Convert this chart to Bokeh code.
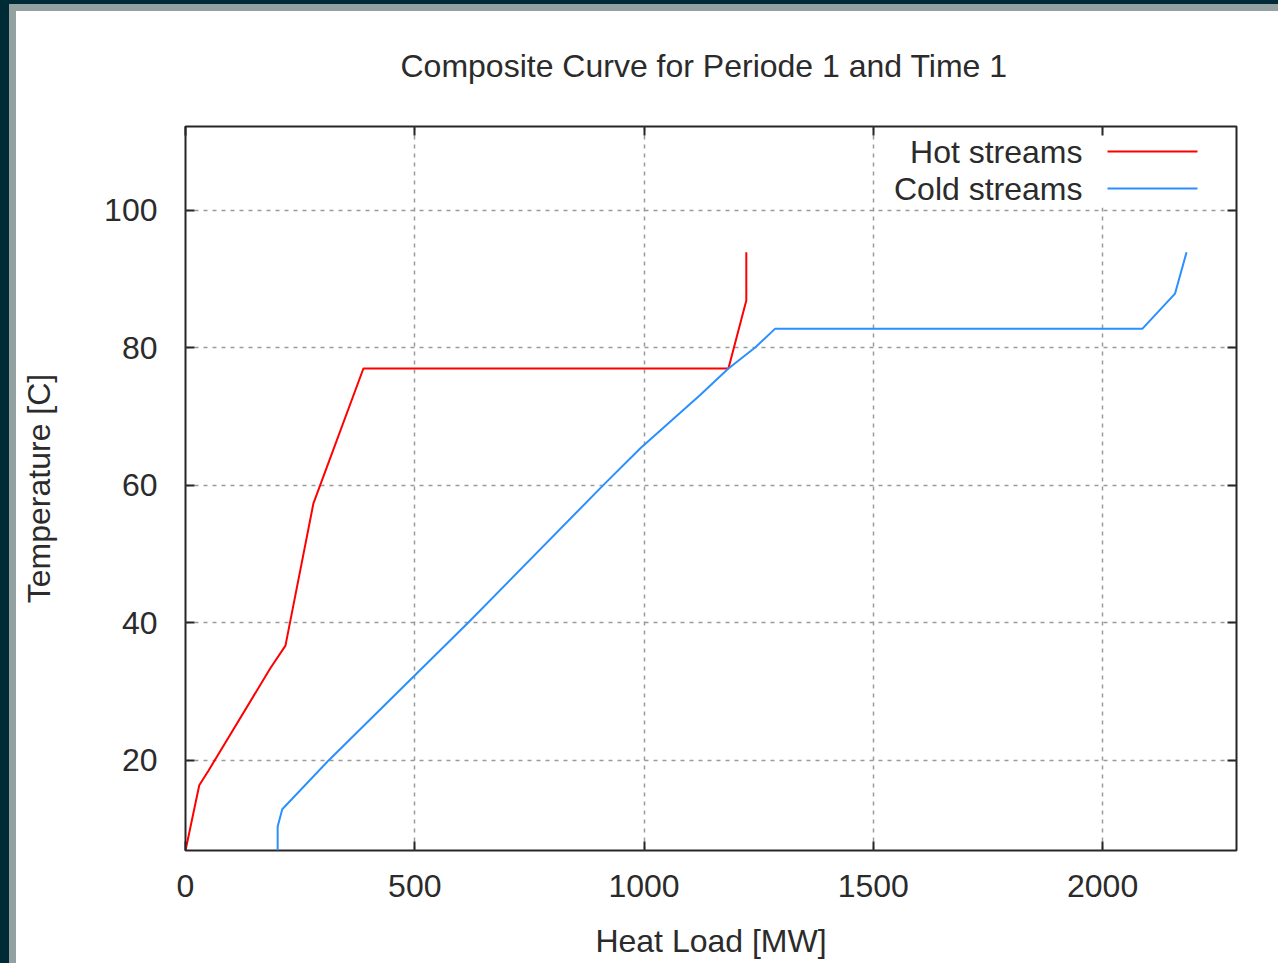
from bokeh.plotting import figure
from bokeh.models import Range1d, LinearAxis, FixedTicker, Grid, Label
from bokeh.embed import file_html
from bokeh.resources import INLINE

# ---------------- data ----------------
hot_load = [0, 30, 50, 185, 218, 279, 388, 1184, 1223, 1223]
hot_temp = [6.9, 16.4, 18.5, 33.4, 36.7, 57.4, 77.0, 77.0, 86.9, 93.9]

cold_load = [201, 201, 211, 312, 619, 909, 992, 1123, 1184, 1243, 1286, 2087, 2158, 2183]
cold_temp = [6.9, 10.4, 12.9, 20.0, 40.2, 59.9, 65.4, 73.2, 77.0, 80.1, 82.8, 82.8, 87.9, 93.9]

x_ticks = [0, 500, 1000, 1500, 2000]
y_ticks = [20, 40, 60, 80, 100]

title_text = "Composite Curve for Periode 1 and Time 1"
x_label = "Heat Load [MW]"
y_label = "Temperature [C]"
series_names = ["Hot streams", "Cold streams"]
series_colors = ["#ff0000", "#2a8fff"]

X0, X1 = 0, 2292
Y0, Y1 = 6.9, 112.2

# ---------------- layout ----------------
W, H = 1278, 963
ML, MR, MT, MB = 185, 42, 126, 113
FW, FH = W - ML - MR, H - MT - MB

FONT = "Liberation Sans"
TXT = "#2b2b2b"
FS = "32px"

p = figure(width=W, height=H, x_range=Range1d(X0, X1), y_range=Range1d(Y0, Y1),
           x_axis_type=None, y_axis_type=None,
           output_backend="svg", toolbar_location=None,
           min_border_left=ML, min_border_right=MR,
           min_border_top=MT, min_border_bottom=MB)
p.border_fill_color = None
p.background_fill_color = "white"
p.outline_line_color = "#262626"
p.outline_line_width = 2
p.styles = {"box-shadow": "inset 9px 4px 0 0 #002b36, inset 16px 11px 0 0 #93a1a1"}

p.title.text = title_text
p.title.align = "left"
p.title.offset = 215
p.title.standoff = 85
p.title.text_font = FONT
p.title.text_font_size = FS
p.title.text_font_style = "normal"
p.title.text_color = TXT

xt = FixedTicker(ticks=x_ticks)
yt = FixedTicker(ticks=y_ticks)

def make_axis(ticker, labels):
    a = LinearAxis(ticker=ticker)
    a.axis_line_color = None
    a.major_tick_in = 9
    a.major_tick_out = 0
    a.major_tick_line_width = 2
    a.major_tick_line_color = "#262626"
    a.minor_tick_line_color = None
    a.major_label_text_font = FONT
    a.major_label_text_font_size = FS if labels else "0px"
    a.major_label_text_color = TXT if labels else None
    a.axis_label_text_font = FONT
    a.axis_label_text_font_size = FS
    a.axis_label_text_font_style = "normal"
    a.axis_label_text_color = TXT
    if not labels:
        a.major_label_standoff = 0
    return a

xb = make_axis(xt, True)
xb.major_label_standoff = 24
xb.axis_label = x_label
xb.axis_label_standoff = 23
yl = make_axis(yt, True)
yl.major_label_standoff = 28
yl.axis_label = y_label
yl.axis_label_standoff = 44
p.add_layout(xb, "below")
p.add_layout(yl, "left")
p.add_layout(make_axis(xt, False), "above")
p.add_layout(make_axis(yt, False), "right")

for dim, tk in ((0, xt), (1, yt)):
    g = Grid(dimension=dim, ticker=tk)
    g.grid_line_color = "#9a9a9a"
    g.grid_line_width = 1.5
    g.grid_line_dash = "4 5"
    p.add_layout(g)

def dx(sx):
    return X0 + sx * (X1 - X0) / FW

def dy(sy):
    return Y0 + sy * (Y1 - Y0) / FH

# opaque key box (covers grid like gnuplot key)
p.quad(left=[dx(700)], right=[dx(1026)], bottom=[dy(643)], top=[dy(722)],
       fill_color="white", line_color=None)

# curves
p.line(hot_load, hot_temp, line_color=series_colors[0], line_width=2)
p.line(cold_load, cold_temp, line_color=series_colors[1], line_width=2)

# key
key_y = [699, 662]
for name, col, ky in zip(series_names, series_colors, key_y):
    p.add_layout(Label(x=897, y=ky, x_units="screen", y_units="screen", text=name,
                       text_font=FONT, text_font_size=FS, text_color=TXT,
                       text_align="right", text_baseline="middle"))
    p.segment(x0=[dx(922)], x1=[dx(1012)], y0=[dy(ky)], y1=[dy(ky)],
              line_color=col, line_width=2)

open("out.html", "w").write(file_html(p, INLINE))
